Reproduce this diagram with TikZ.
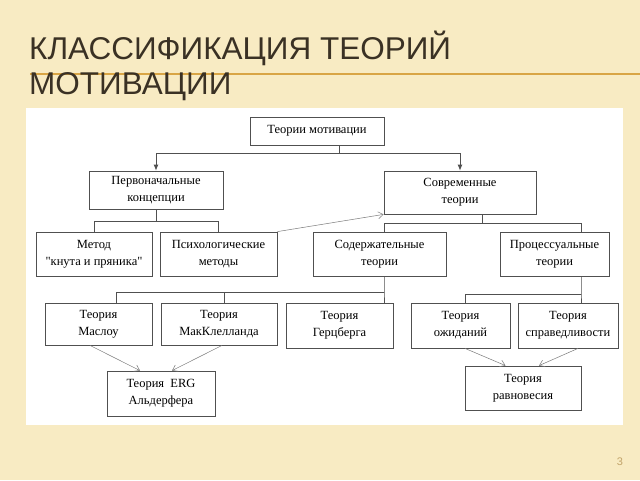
\documentclass[tikz,border=0pt]{standalone}
\usepackage{fontspec}
\setmainfont{Liberation Serif}[Ligatures=TeXOff]
\newfontfamily\headfont{Liberation Sans}
\usetikzlibrary{calc,arrows.meta}
\definecolor{slide}{HTML}{F8EBC3}
\definecolor{rule}{HTML}{D9A545}
\definecolor{ink}{HTML}{3A3124}
\definecolor{frame}{HTML}{505050}
\definecolor{hintgray}{HTML}{7A7A7A}
\definecolor{pagenum}{HTML}{C2A46A}

\begin{document}
\begin{tikzpicture}[x=1pt,y=-1pt,
  box/.style={draw=frame,line width=0.8pt,fill=white,inner sep=0pt,align=center,font=\fontsize{12.5}{17}\selectfont},
  link/.style={draw=frame,line width=0.8pt},
  down/.style={link,-{Latex[length=6pt,width=5pt]}},
  hint/.style={draw=hintgray,line width=0.5pt,-{Straight Barb[length=5pt,width=7pt]}},
  headline/.style={anchor=base west,inner sep=0pt,text=ink,font=\headfont\fontsize{31.5}{31.5}\selectfont}]
  \fill[slide] (0,0) rectangle (640,480);
  \useasboundingbox (0,0) rectangle (640,480);
  \draw[rule,line width=1.2pt] (30,74) -- (640,74);
  \node (H1) at (29,59) [headline] {КЛАССИФИКАЦИЯ ТЕОРИЙ};
  \node (H2) at (29,94) [headline] {МОТИВАЦИИ};
  \fill[white] (26,108) rectangle (623,425);
  \node (N) at (620,462) [text=pagenum,font=\headfont\fontsize{11}{11}\selectfont] {3};

  \node (T) at (317,131) [box,minimum width=134,minimum height=28] {Теории мотивации};
  \node (P) at (156,190) [box,minimum width=134,minimum height=38] {Первоначальные\\концепции};
  \node (C) at (460,192.5) [box,minimum width=152,minimum height=43] {Современные\\теории};
  \node (P1) at (94,254) [box,minimum width=116,minimum height=44] {Метод\\"кнута и пряника"};
  \node (P2) at (218.5,254) [box,minimum width=117,minimum height=44] {Психологические\\методы};
  \node (C1) at (379.5,254) [box,minimum width=133,minimum height=44] {Содержательные\\теории};
  \node (C2) at (554.5,254) [box,minimum width=109,minimum height=44] {Процессуальные\\теории};
  \node (C11) at (98.5,324) [box,minimum width=107,minimum height=42] {Теория\\Маслоу};
  \node (C12) at (219,324) [box,minimum width=116,minimum height=42] {Теория\\МакКлелланда};
  \node (C13) at (339.5,325.5) [box,minimum width=107,minimum height=45] {Теория\\Герцберга};
  \node (C21) at (460.5,325.5) [box,minimum width=99,minimum height=45] {Теория\\ожиданий};
  \node (C22) at (568,325.5) [box,minimum width=100,minimum height=45] {Теория\\справедливости};
  \node (E) at (161,393.5) [box,minimum width=108,minimum height=45] {Теория~~ERG\\Альдерфера};
  \node (R) at (523,388) [box,minimum width=116,minimum height=44] {Теория\\равновесия};

  \draw[link] ($(T.south)+(22,0)$) -- ++(0,8) coordinate (J0);
  \draw[down] (J0) -| (P.north);
  \draw[down] (J0) -| (C.north);
  \draw[link] (P.south) -- ++(0,12) coordinate (J1)
     (J1) -| (P1.north) (J1) -| (P2.north);
  \draw[link] ($(C.south)+(22,0)$) -- ++(0,9) coordinate (J2)
     (J2) -| ($(C1.north)+(4.5,0)$) (J2) -| ($(C2.north)+(26.5,0)$);
  \draw[link] ($(C1.south)+(4.5,0)$) -- ++(0,16) coordinate (J3) -- ($(C13.north)+(44.5,0)$)
     (J3) -| ($(C11.north)+(17.5,0)$) (J3) -| ($(C12.north)+(5,0)$);
  \draw[link] ($(C2.south)+(26.5,0)$) -- ++(0,18) coordinate (J4) -- ($(C22.north)+(13,0)$)
     (J4) -| ($(C21.north)+(4.5,0)$);

  \draw[hint] (P2.north east) -- (C.south west);
  \draw[hint] ($(C11.south)+(-8.5,0)$) -- ($(E.north)+(-21,0)$);
  \draw[hint] ($(C12.south)+(3,0)$) -- ($(E.north)+(11,0)$);
  \draw[hint] ($(C21.south)+(4.5,0)$) -- ($(R.north)+(-17.5,0)$);
  \draw[hint] ($(C22.south)+(10,0)$) -- ($(R.north)+(16,0)$);
\end{tikzpicture}
\end{document}
